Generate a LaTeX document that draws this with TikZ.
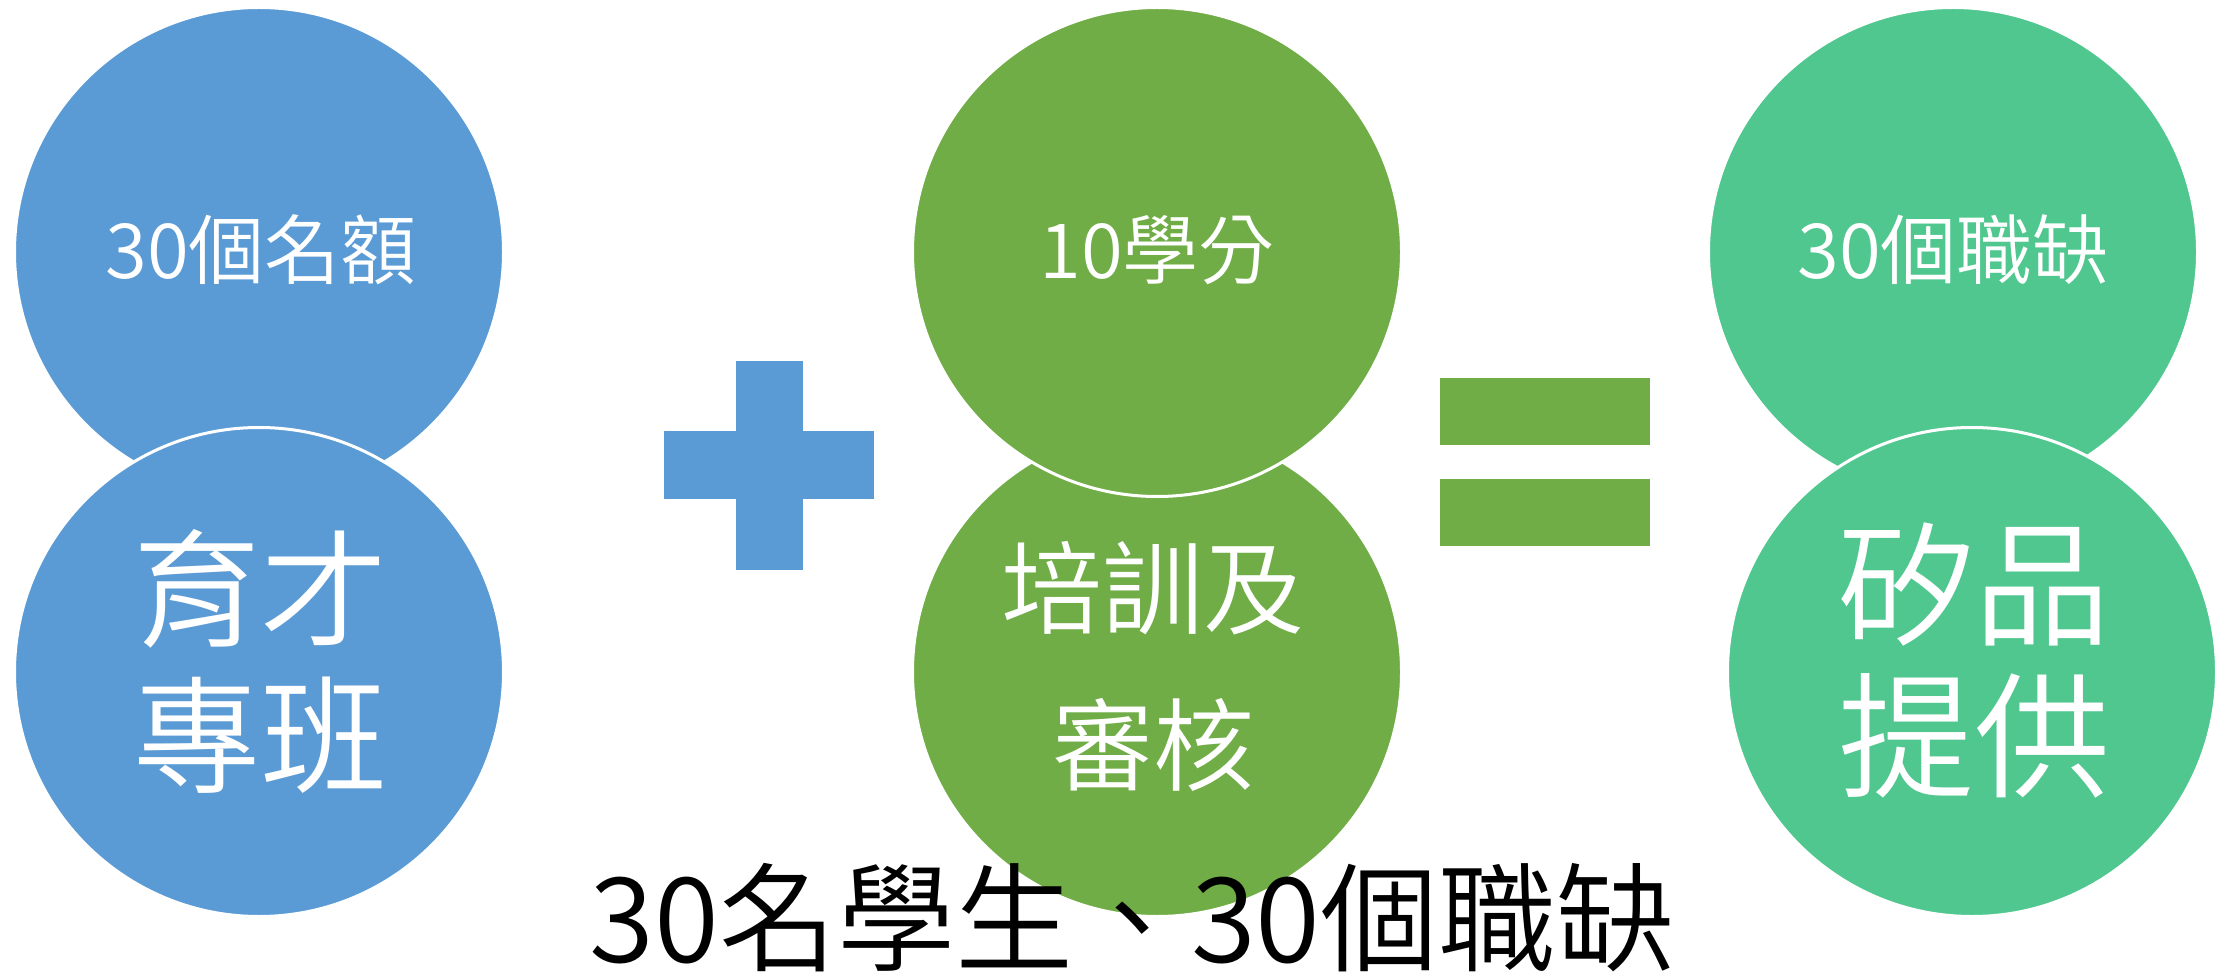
\documentclass[tikz,border=0pt]{standalone}
\usepackage{fontspec}
\newfontfamily\cjk{Noto Sans CJK TC DemiLight}
\definecolor{cblue}{HTML}{5B9BD5}
\definecolor{cgreen}{HTML}{70AD47}
\definecolor{cteal}{HTML}{50C78F}
\begin{document}
\begin{tikzpicture}[x=1pt,y=-1pt,
  disc/.style={circle,draw=white,line width=3pt,minimum size=489pt,inner sep=0pt},
  toptxt/.style={text=white,font=\cjk\fontsize{76}{80}\selectfont,inner sep=0pt},
  bartxt/.style={text=white,align=center,inner sep=0pt}]
\useasboundingbox (0,0) rectangle (2236,973);
% blue pair
\node[disc,fill=cblue] (bt) at (259,252) {};
\node[disc,fill=cblue] (bb) at (259,672) {};
% green pair
\node[disc,fill=cgreen] (gb) at (1157,672) {};
\node[disc,fill=cgreen] (gt) at (1157,252) {};
% teal pair
\node[disc,fill=cteal] (tt) at (1953,252) {};
\node[disc,fill=cteal] (tb) at (1972,672) {};
% texts
\node[toptxt] (t1) at (261,250) {30個名額};
\node[toptxt] (t2) at (1157,250) {10學分};
\node[toptxt] (t3) at (1953,250) {30個職缺};
\node[bartxt,font=\cjk\fontsize{127}{146}\selectfont] (b1) at (260,661) {育才\\專班};
\node[bartxt,font=\cjk\fontsize{101}{157}\selectfont] (b2) at (1153,666) {培訓及\\審核};
\node[bartxt,font=\cjk\fontsize{136}{152}\selectfont] (b3) at (1974,660) {矽品\\提供};
% plus
\fill[cblue] (664,431) rectangle (874,499);
\fill[cblue] (736,361) rectangle (803,570);
% equals
\fill[cgreen] (1440,378) rectangle (1650,445);
\fill[cgreen] (1440,479) rectangle (1650,546);
% bottom caption
\node[inner sep=0pt,text=black,font=\cjk\fontsize{118}{120}\selectfont] (cap) at (1132,918) {30名學生、30個職缺};
\end{tikzpicture}
\end{document}
